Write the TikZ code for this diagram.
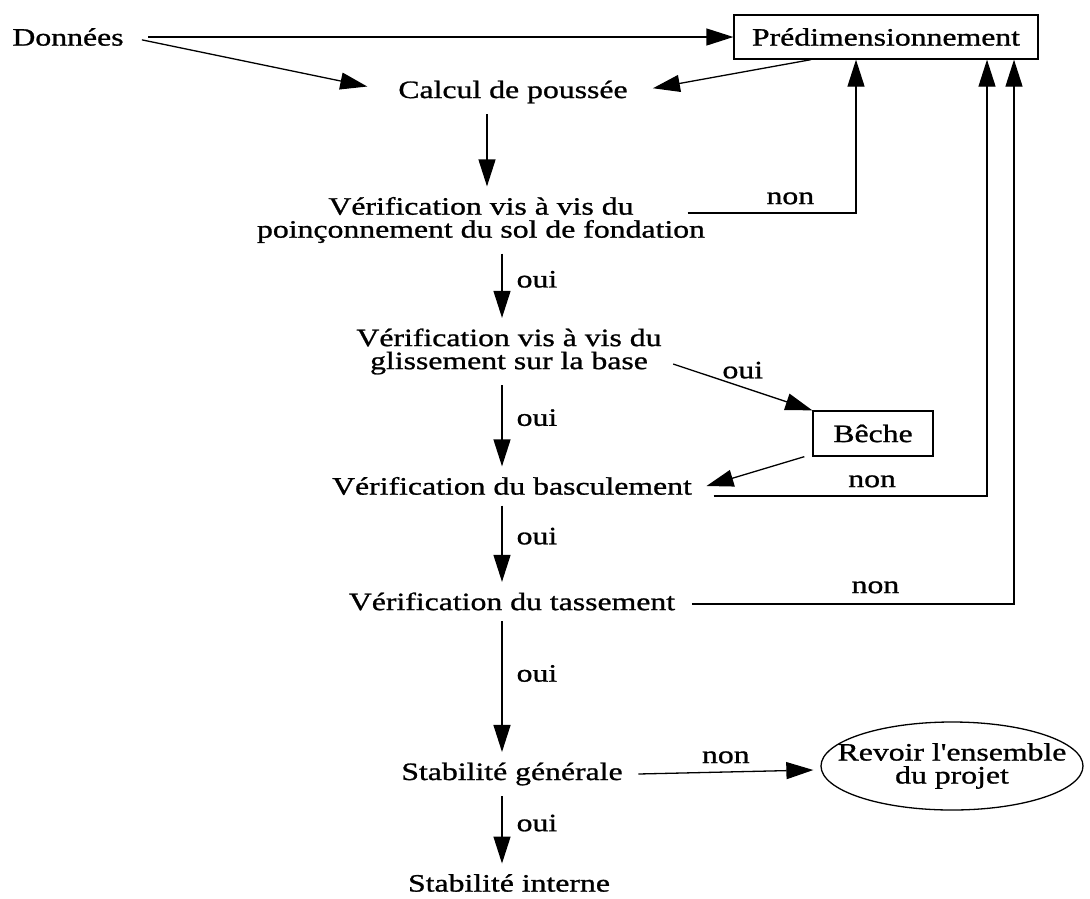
\documentclass[tikz,border=0pt]{standalone}
\usepackage{fontspec}
\setmainfont{Liberation Serif}[FakeStretch=1.27,FakeBold=1,Ligatures=TeXOff]
\usetikzlibrary{arrows.meta,shapes.geometric}
\tikzset{
  txt/.style={inner xsep=4pt,inner ysep=10pt,align=center},
  boite/.style={draw,minimum height=44pt},
  etiq/.style={inner sep=2pt}
}
\begin{document}
\begin{tikzpicture}[>={Triangle[length=27pt,width=17pt]},x=1pt,y=-1pt,line width=1.3pt,
  every node/.style={font=\fontsize{25}{23}\selectfont}]
\useasboundingbox (0,0) rectangle (1090,898);
\coordinate (axe) at (502,0);

\node[txt] (don) at (68,37) {Données};
\node[boite,minimum width=304pt] (pre) at (886,37) {Prédimensionnement};
\node[txt] (cal) at (513,92) {Calcul de poussée};
\node[txt] (v1) at (481,220) {Vérification vis à vis du\\poinçonnement du sol de fondation};
\node[txt] (v2) at (509,351.5) {Vérification vis à vis du\\glissement sur la base};
\node[boite,minimum width=120pt,minimum height=45pt] (beche) at (873,433.5) {Bêche};
\node[txt] (v3) at (512,486) {Vérification du basculement};
\node[txt] (v4) at (512,601.5) {Vérification du tassement};
\node[txt] (sg) at (512,774) {Stabilité générale};
\node[draw,ellipse,minimum width=262pt,minimum height=88pt,inner xsep=-25pt,inner ysep=0pt,align=center] (ell) at (952,766) {Revoir l'ensemble\\du projet};
\node[txt] (si) at (509,883) {Stabilité interne};

\draw[->,shorten <=20pt] (don.east) -- (don.east -| pre.west);
\draw[->,shorten <=14pt,shorten >=27pt] (don.east) -- (cal.west);
\draw[->,shorten >=21pt] ([xshift=-75pt]pre.south) -- (cal.east);
\draw[->] ([xshift=6pt]v1.north |- cal.south) -- ([xshift=6pt]v1.north);

\draw[->] ([shift={(-22pt,7pt)}]v1.east) -| node[etiq,above=6pt,pos=.305]{non} ([xshift=-30pt]pre.south);
\draw[->] ([shift={(17pt,-10pt)}]v3.east) -| node[etiq,above=6pt,pos=.29]{non} ([xshift=101pt]pre.south);
\draw[->] ([shift={(12pt,-2.5pt)}]v4.east) -| node[etiq,above=8pt,pos=.285]{non} ([xshift=128pt]pre.south);

\draw[->] (v1.south -| axe) -- node[etiq,right=12pt,pos=.4]{oui} (v2.north -| axe);
\draw[->] (v2.south -| axe) -- node[etiq,right=12pt,pos=.4]{oui} (v3.north -| axe);
\draw[->] (v3.south -| axe) -- node[etiq,right=12pt,pos=.4]{oui} (v4.north -| axe);
\draw[->] (v4.south -| axe) -- node[etiq,right=12pt,pos=.4]{oui} (sg.north -| axe);
\draw[->] (sg.south -| axe) -- node[etiq,right=12pt,pos=.4]{oui} (si.north -| axe);

\draw[->] ([shift={(7pt,-12.5pt)}]v2.east) -- node[etiq,above=6pt]{oui} (beche.north west);
\draw[->] ([xshift=-8pt]beche.south west) -- ([xshift=10pt]v3.east);
\draw[->] ([xshift=11pt]sg.east) -- node[etiq,above=6pt]{non} ([shift={(-7pt,-4pt)}]ell.west);
\end{tikzpicture}
\end{document}
